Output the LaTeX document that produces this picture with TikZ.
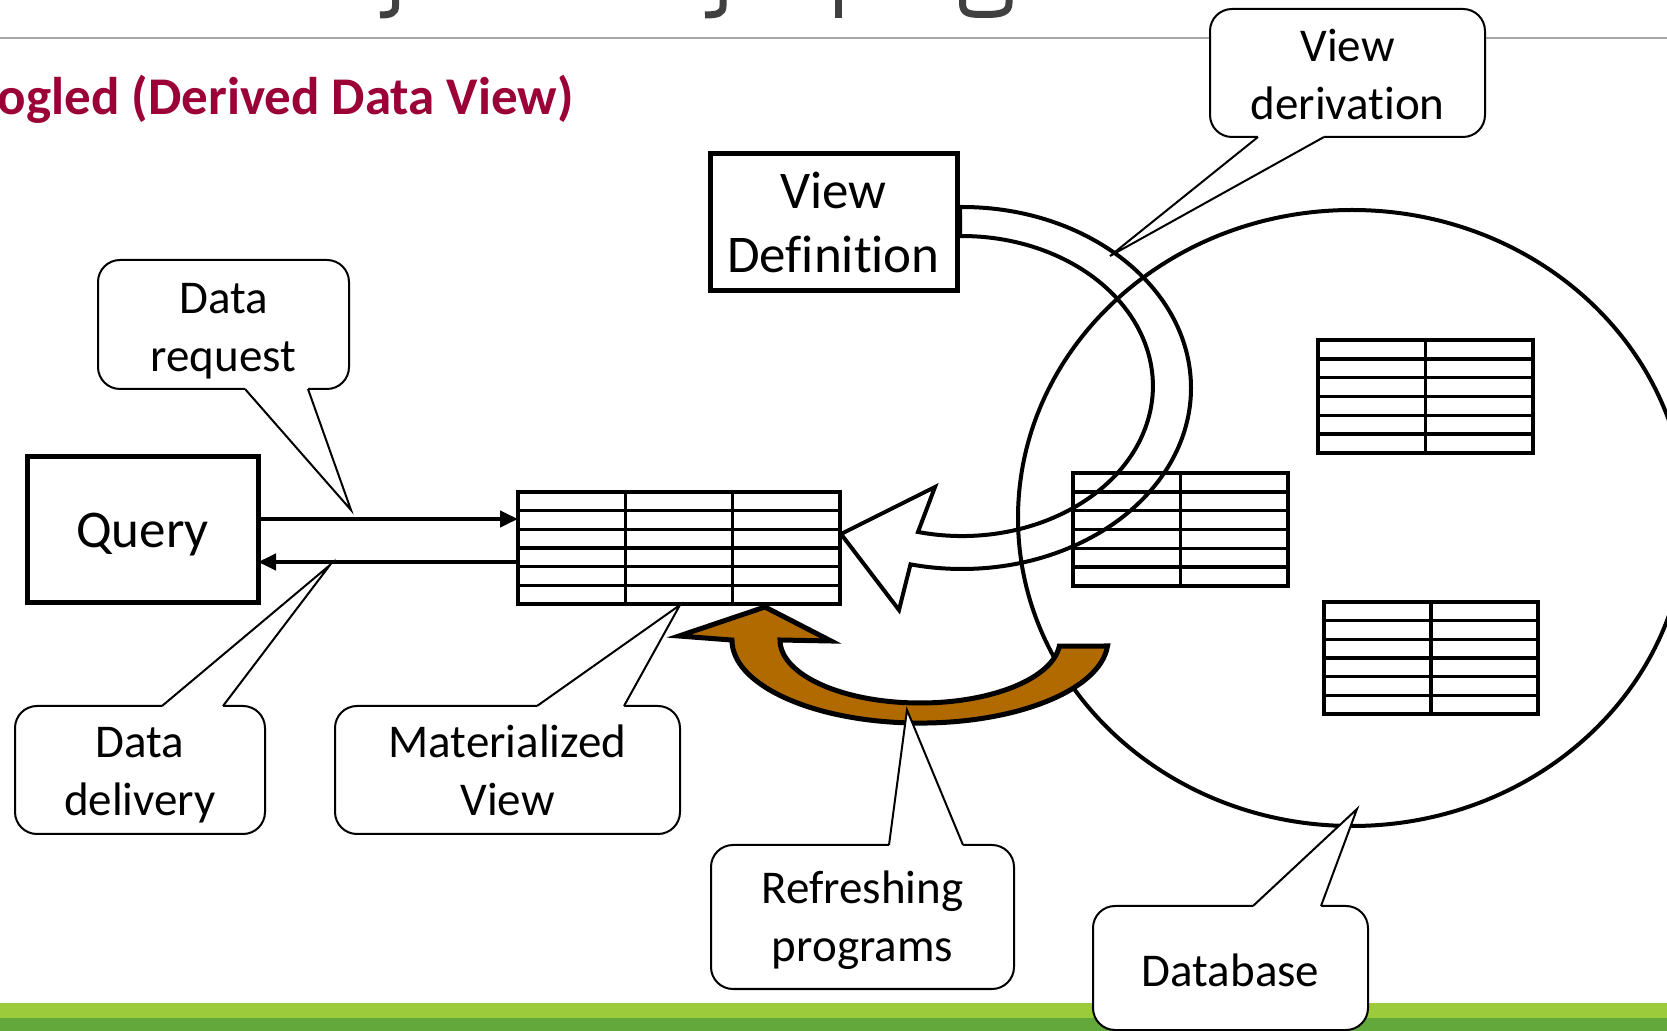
\documentclass[tikz,border=0pt]{standalone}
\usepackage{fontspec}
\setmainfont{Carlito}[Ligatures={CommonOff,ContextualOff}]
\usetikzlibrary{arrows.meta,calc}
\definecolor{subred}{RGB}{155,0,55}
\definecolor{brownarr}{RGB}{176,106,0}
\definecolor{lgreen}{RGB}{155,203,59}
\definecolor{dgreen}{RGB}{98,168,58}
\definecolor{titlegray}{RGB}{64,64,64}
\definecolor{rulegray}{RGB}{166,166,166}
\newcommand{\callfnt}{\fontsize{23.5pt}{29pt}\selectfont}
\newcommand{\boxfnt}{\fontsize{26.5pt}{32pt}\selectfont}
\newcommand{\subfnt}{\fontsize{26.5pt}{31pt}\selectfont\bfseries}
\newcommand{\calloutTail}[5]{%
  \fill[white] (#1,#3) -- (#5) -- (#2,#3) -- (#2,#4) -- (#1,#4) -- cycle;
  \draw[calltail] (#1,#3) -- (#5) -- (#2,#3);}
\newcommand{\tblgrid}[2]{%
  \foreach \i in {1,...,5}
    \draw[tline] ($(#1.north west)!\i/6!(#1.south west)$) -- ($(#1.north east)!\i/6!(#1.south east)$);
  \foreach \f in {#2}
    \draw[tline] ($(#1.north west)!\f!(#1.north east)$) -- ($(#1.south west)!\f!(#1.south east)$);}
\begin{document}
\begin{tikzpicture}[x=0.5pt,y=-0.5pt,
  callbox/.style={draw,line width=1pt,fill=white,rounded corners=11pt,inner sep=0pt,outer sep=0pt},
  calltext/.style={align=center,font=\callfnt,inner sep=0pt},
  calltail/.style={line width=1pt,line join=miter},
  mainbox/.style={draw,line width=2.5pt,fill=white,inner sep=0pt,outer sep=0pt},
  maintext/.style={align=center,font=\boxfnt,inner sep=0pt},
  tbl/.style={draw,line width=1.75pt,fill=white,inner sep=0pt,outer sep=0pt,minimum width=107.5pt,minimum height=56.5pt},
  tline/.style={line width=1.75pt},
  qarr/.style={line width=2pt,-{Triangle[length=9pt,width=8pt]}},
  titlestroke/.style={titlegray,line width=3.5pt}]
\useasboundingbox (0,0) rectangle (1667,1031);
\fill[white] (0,0) rectangle (1667,1031);

% descenders of the cut-off title
\draw[titlestroke] (395.5,-4) -- (395.5,6) .. controls (395.5,13) and (391,15) .. (380,15);
\draw[titlestroke] (723,-4) -- (723,6) .. controls (723,13) and (718,15) .. (705,15);
\draw[titlestroke] (838.4,-4) -- (838.4,18);
\draw[titlestroke] (962.5,-4) -- (962.5,3) .. controls (962.5,14.5) and (970,14.5) .. (986,14.5) .. controls (1002,14.5) and (1009,12) .. (1009,3) -- (1009,-4);

\draw[rulegray,line width=1pt] (0,38) -- (1667,38);
\node[anchor=base east,text=subred,font=\subfnt,inner sep=0pt] (sub) at (574,115) {ogled (Derived Data View)};

% bottom bars
\fill[lgreen] (0,1003) rectangle (1667,1018);
\fill[dgreen] (0,1018) rectangle (1667,1035);

% database
\draw[line width=2pt] (1352,518) ellipse [x radius=334, y radius=308];

% tables
\node[tbl,minimum width=161pt,minimum height=56pt] (mv) at (679,548) {};
\tblgrid{mv}{1/3,2/3}
\node[tbl] (ta) at (1425.5,396.5) {};
\tblgrid{ta}{1/2}
\node[tbl] (tb) at (1180.5,529.5) {};
\tblgrid{tb}{1/2}
\node[tbl,minimum width=107pt,minimum height=56pt] (tc) at (1431,658) {};
\tblgrid{tc}{1/2}

% view definition + hollow derivation arrow
\node[mainbox,minimum width=123.5pt,minimum height=68.5pt] (vdef) at (833.5,222) {};
\node[maintext] (vdeft) at (vdef.center) {View\\Definition};
\draw[line width=2pt,line join=miter] (960,207) -- (962,207)
  arc[start angle=-90,end angle=103,x radius=229,y radius=181]
  -- (899,610) -- (841,534) -- (935,487) -- (918,532)
  arc[start angle=103.3,end angle=-90,x radius=191,y radius=150]
  -- (960,236) -- cycle;

% refreshing arrow
\draw[line width=2.5pt,fill=brownarr,line join=miter] (765,607) -- (831,641) -- (780,640)
  arc[start angle=180,end angle=5.5,x radius=140,y radius=63]
  -- (1107.5,646)
  arc[start angle=4.1,end angle=180,x radius=188,y radius=83]
  -- (679,636) -- cycle;

% query
\node[mainbox,minimum width=115.5pt,minimum height=73pt] (query) at (142.5,530) {};
\node[maintext] (queryt) at ([yshift=-2.5pt]query.center) {Query};
\coordinate (q1) at ([yshift=5.5pt]query.east);
\coordinate (q2) at ([yshift=-16pt]query.east);
\draw[qarr] (q1) -- (q1 -| mv.west);
\draw[qarr] (q2 -| mv.west) -- (q2);

% callouts
\node[callbox,minimum width=137.5pt,minimum height=64pt] (vd) at (1347.5,73) {};
\node[calltext] (vdt) at ([yshift=-0.75pt]vd.center) {View\\derivation};
\coordinate (vdtip) at (1110,256);
\calloutTail{1258}{1324}{137}{134}{vdtip}

\node[callbox,minimum width=125.5pt,minimum height=64.5pt] (dr) at (223.5,324.5) {};
\node[calltext] (drt) at ([yshift=-3.5pt]dr.center) {Data\\request};
\coordinate (drtip) at (351,510);
\calloutTail{245}{308}{389}{386}{drtip}

\node[callbox,minimum width=125pt,minimum height=64pt] (dd) at (140,770) {};
\node[calltext] (ddt) at ([yshift=-2.5pt]dd.center) {Data\\delivery};
\coordinate (ddtip) at (330,565);
\calloutTail{162}{223}{706}{709}{ddtip}

\node[callbox,minimum width=172.5pt,minimum height=64pt] (mvc) at (507.5,770) {};
\node[calltext] (mvct) at ([yshift=-0.3pt]mvc.center) {Materialized\\View};
\coordinate (mvtip) at (680,605);
\calloutTail{537}{624}{706}{709}{mvtip}

\node[callbox,minimum width=151.5pt,minimum height=72pt] (rp) at (862.5,917) {};
\node[calltext] (rpt) at ([yshift=-1.5pt]rp.center) {Refreshing\\programs};
\coordinate (rptip) at (907,710);
\calloutTail{889}{963}{845}{848}{rptip}

\node[callbox,minimum width=137.5pt,minimum height=62pt] (db) at (1230.5,968) {};
\node[calltext] (dbt) at ([yshift=-1pt]db.center) {Database};
\coordinate (dbtip) at (1357,809);
\calloutTail{1253}{1321}{906}{909}{dbtip}
\end{tikzpicture}
\end{document}
